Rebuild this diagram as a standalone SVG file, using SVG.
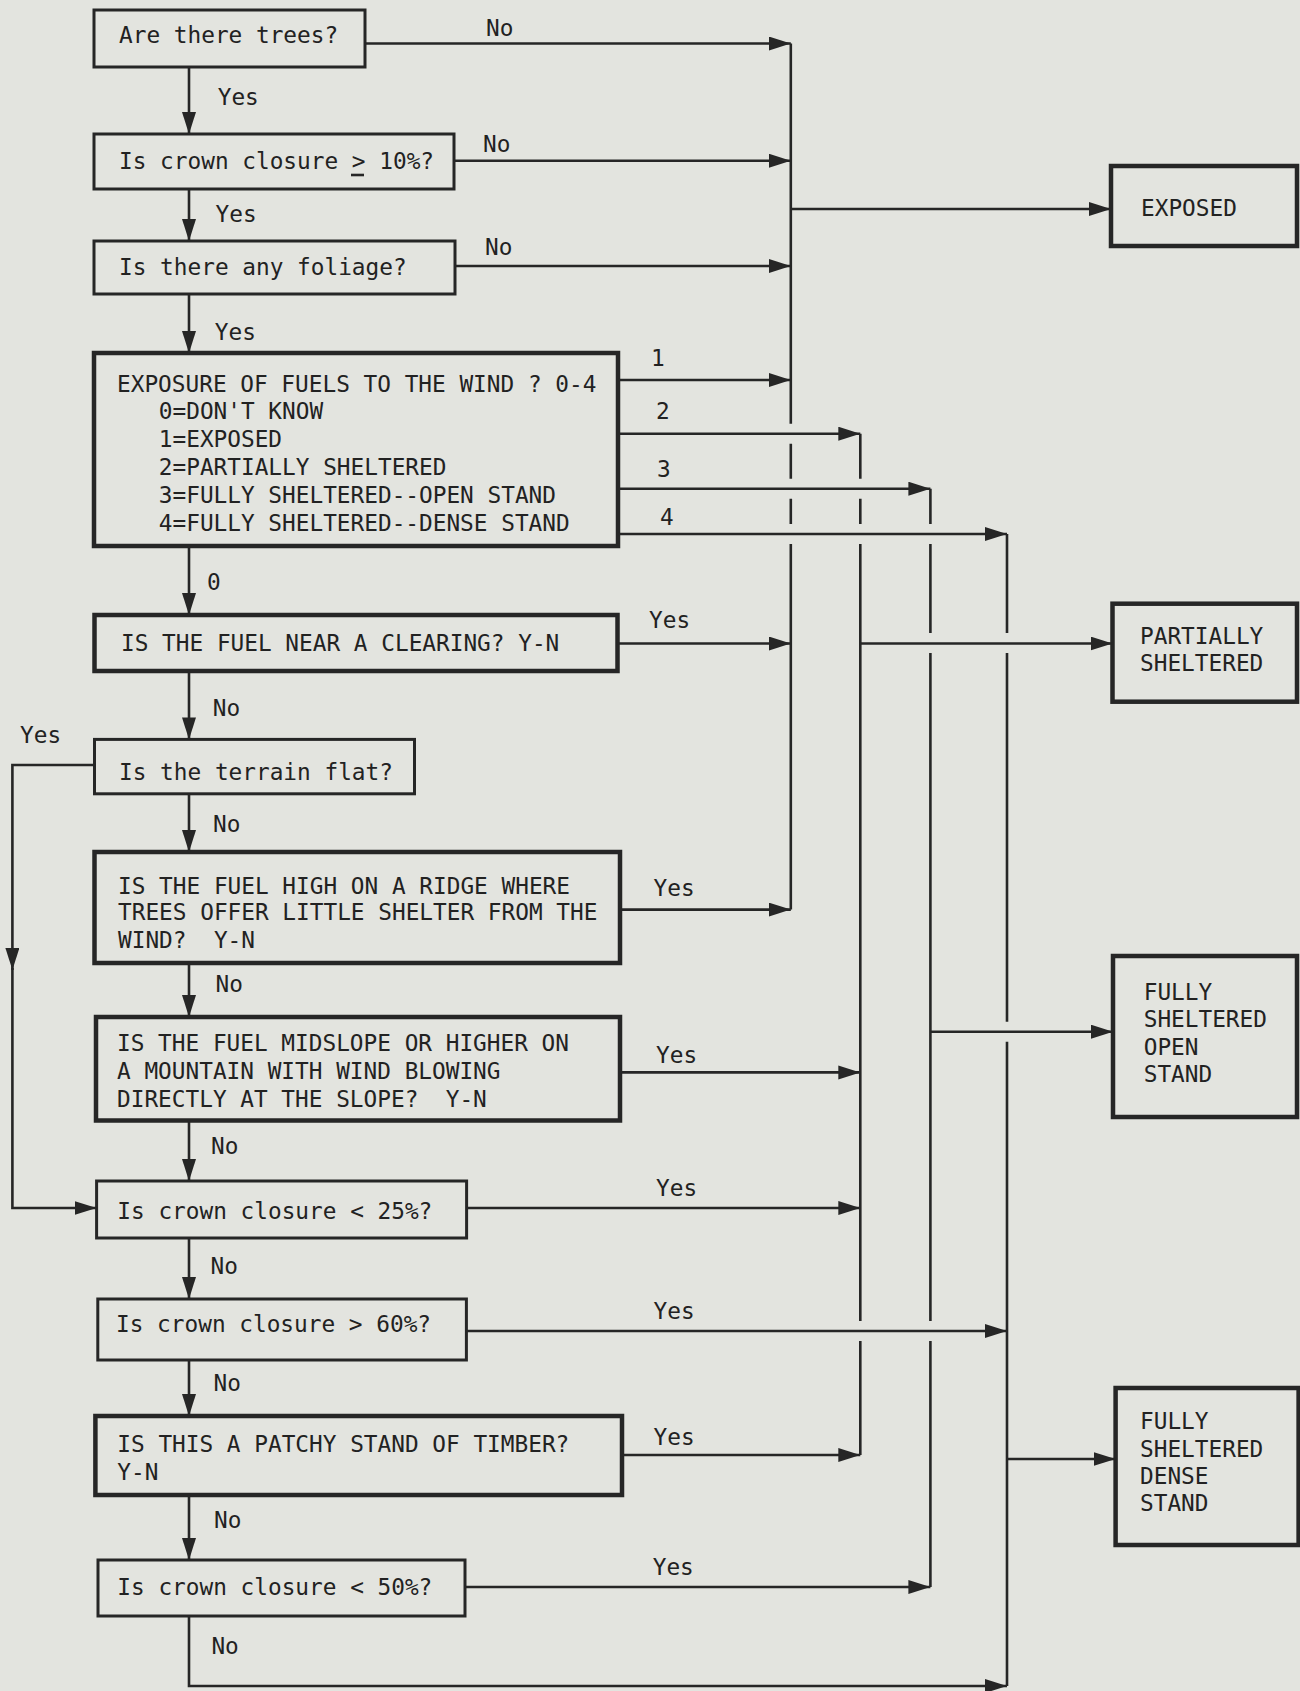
<svg xmlns="http://www.w3.org/2000/svg" width="1300" height="1691" viewBox="0 0 1300 1691">
<defs>
<style>
.bg{fill:#e3e4df}
.box{fill:none;stroke:#262626;stroke-width:3}
.thick{stroke-width:4.5}
.ln{fill:none;stroke:#262626;stroke-width:2.6}
.arr{marker-end:url(#ah)}
text{font-family:"DejaVu Sans Mono",monospace;font-size:22.75px;fill:#222;white-space:pre}
</style>
<marker id="ah" markerUnits="userSpaceOnUse" markerWidth="24" markerHeight="16" refX="22" refY="7" orient="auto">
<path d="M0,0 L22,7 L0,14 z" fill="#262626"/>
</marker>
</defs>
<rect class="bg" x="0" y="0" width="1300" height="1691"/>

<g id="n-trees">
<rect class="box" x="94" y="10" width="271" height="57"/>
<text x="119" y="43">Are there trees?</text>
</g>
<g id="n-closure10">
<rect class="box" x="94" y="134" width="360" height="55"/>
<text x="119" y="169">Is crown closure &gt; 10%?</text>
<path class="ln" d="M351,175 H364" stroke-width="2"/>
</g>
<g id="n-foliage">
<rect class="box" x="94" y="241" width="361" height="53"/>
<text x="119" y="274.5">Is there any foliage?</text>
</g>
<g id="n-exposure">
<rect class="box thick" x="94" y="353" width="524" height="193"/>
<text x="117" y="391.7">EXPOSURE OF FUELS TO THE WIND ? 0-4</text>
<text x="158.8" y="419.2">0=DON'T KNOW</text>
<text x="158.8" y="447.1">1=EXPOSED</text>
<text x="158.8" y="474.9">2=PARTIALLY SHELTERED</text>
<text x="158.8" y="502.8">3=FULLY SHELTERED--OPEN STAND</text>
<text x="158.8" y="530.6">4=FULLY SHELTERED--DENSE STAND</text>
</g>
<g id="n-clearing">
<rect class="box thick" x="94.5" y="615" width="523" height="56"/>
<text x="121" y="650.5">IS THE FUEL NEAR A CLEARING? Y-N</text>
</g>
<g id="n-flat">
<rect class="box" x="94.5" y="739.4" width="320" height="54.4"/>
<text x="119" y="779.5">Is the terrain flat?</text>
</g>
<g id="n-ridge">
<rect class="box thick" x="94.5" y="852" width="525.5" height="111"/>
<text x="118" y="893.5">IS THE FUEL HIGH ON A RIDGE WHERE</text>
<text x="118" y="920">TREES OFFER LITTLE SHELTER FROM THE</text>
<text x="118" y="947.5" xml:space="preserve">WIND?  Y-N</text>
</g>
<g id="n-midslope">
<rect class="box thick" x="96" y="1017" width="524" height="103.5"/>
<text x="117" y="1051.3">IS THE FUEL MIDSLOPE OR HIGHER ON</text>
<text x="117" y="1079">A MOUNTAIN WITH WIND BLOWING</text>
<text x="117" y="1106.5" xml:space="preserve">DIRECTLY AT THE SLOPE?  Y-N</text>
</g>
<g id="n-closure25">
<rect class="box" x="96.6" y="1181" width="370" height="57"/>
<text x="117.3" y="1219">Is crown closure &lt; 25%?</text>
</g>
<g id="n-closure60">
<rect class="box" x="97.8" y="1299" width="368.6" height="61"/>
<text x="116" y="1331.5">Is crown closure &gt; 60%?</text>
</g>
<g id="n-patchy">
<rect class="box thick" x="95.4" y="1416" width="526.6" height="79"/>
<text x="117.3" y="1452.3">IS THIS A PATCHY STAND OF TIMBER?</text>
<text x="117.3" y="1480.2">Y-N</text>
</g>
<g id="n-closure50">
<rect class="box" x="98" y="1560" width="367" height="56"/>
<text x="117.3" y="1594.5">Is crown closure &lt; 50%?</text>
</g>
<g id="n-exposed">
<rect class="box thick" x="1111" y="166" width="186" height="80"/>
<text x="1141" y="215.5">EXPOSED</text>
</g>
<g id="n-partial">
<rect class="box thick" x="1112.5" y="603.7" width="184.5" height="98"/>
<text x="1140" y="644.3">PARTIALLY</text>
<text x="1140" y="671.3">SHELTERED</text>
</g>
<g id="n-fsopen">
<rect class="box thick" x="1113" y="956" width="184" height="161"/>
<text x="1143.7" y="999.5">FULLY</text>
<text x="1143.7" y="1027.2">SHELTERED</text>
<text x="1143.7" y="1055">OPEN</text>
<text x="1143.7" y="1082">STAND</text>
</g>
<g id="n-fsdense">
<rect class="box thick" x="1115.6" y="1388" width="183" height="157"/>
<text x="1140" y="1429">FULLY</text>
<text x="1140" y="1457">SHELTERED</text>
<text x="1140" y="1483.5">DENSE</text>
<text x="1140" y="1511.3">STAND</text>
</g>

<g id="connectors">
<path class="ln arr" d="M189,67 V134"/>
<path class="ln arr" d="M189,189 V241"/>
<path class="ln arr" d="M189,294 V353"/>
<path class="ln arr" d="M189,546 V615"/>
<path class="ln arr" d="M189,671 V739.4"/>
<path class="ln arr" d="M189,793.8 V852"/>
<path class="ln arr" d="M189,963 V1017"/>
<path class="ln arr" d="M189,1120.5 V1181"/>
<path class="ln arr" d="M189,1238 V1299"/>
<path class="ln arr" d="M189,1360 V1416"/>
<path class="ln arr" d="M189,1495 V1560"/>
<path class="ln arr" d="M189,1616 V1686 H1007"/>
<path class="ln arr" d="M94.5,765 H12.4 V970"/>
<path class="ln arr" d="M12.4,968 V1208 H96.6"/>
<path class="ln arr" d="M365,43.5 H790.8"/>
<path class="ln arr" d="M454,160.7 H790.8"/>
<path class="ln arr" d="M455,266 H790.8"/>
<path class="ln arr" d="M618,380 H790.8"/>
<path class="ln arr" d="M618,433.7 H860.3"/>
<path class="ln arr" d="M618,488.7 H930.4"/>
<path class="ln arr" d="M618,534 H1007"/>
<path class="ln arr" d="M617.5,643.5 H790.8"/>
<path class="ln arr" d="M620,909.6 H790.8"/>
<path class="ln arr" d="M620,1072.4 H860.3"/>
<path class="ln arr" d="M466.6,1208 H860.3"/>
<path class="ln arr" d="M466.4,1331 H1007"/>
<path class="ln arr" d="M622,1455 H860.3"/>
<path class="ln arr" d="M465,1587 H930.4"/>
<path class="ln arr" d="M790.8,209 H1111"/>
<path class="ln arr" d="M860.3,643.5 H1112.5"/>
<path class="ln arr" d="M930.4,1031.7 H1113"/>
<path class="ln arr" d="M1007,1459 H1115.6"/>
<path class="ln" d="M790.8,43.5 V423.7 M790.8,443.7 V478.7 M790.8,498.7 V524 M790.8,544 V909.6"/>
<path class="ln" d="M860.3,433.7 V478.7 M860.3,498.7 V524 M860.3,544 V1321 M860.3,1341 V1455"/>
<path class="ln" d="M930.4,488.7 V524 M930.4,544 V633 M930.4,653 V1321 M930.4,1341 V1587"/>
<path class="ln" d="M1007,534 V633 M1007,653 V1021.7 M1007,1041.7 V1686"/>
<text x="486" y="36">No</text>
<text x="217.7" y="105">Yes</text>
<text x="483" y="152">No</text>
<text x="215.6" y="221.5">Yes</text>
<text x="485" y="255">No</text>
<text x="214.8" y="340">Yes</text>
<text x="651" y="366">1</text>
<text x="656" y="419">2</text>
<text x="657" y="477">3</text>
<text x="660" y="525">4</text>
<text x="207" y="590">0</text>
<text x="649" y="627.5">Yes</text>
<text x="212.7" y="715.5">No</text>
<text x="20" y="743">Yes</text>
<text x="213" y="831.5">No</text>
<text x="653.6" y="895.5">Yes</text>
<text x="215.6" y="992">No</text>
<text x="656" y="1062.5">Yes</text>
<text x="211" y="1154">No</text>
<text x="656" y="1195.5">Yes</text>
<text x="210.6" y="1273.5">No</text>
<text x="653.6" y="1319">Yes</text>
<text x="213.5" y="1390.5">No</text>
<text x="653.6" y="1444.5">Yes</text>
<text x="214" y="1527.5">No</text>
<text x="652.7" y="1575">Yes</text>
<text x="211.4" y="1653.5">No</text>
</g>
</svg>
